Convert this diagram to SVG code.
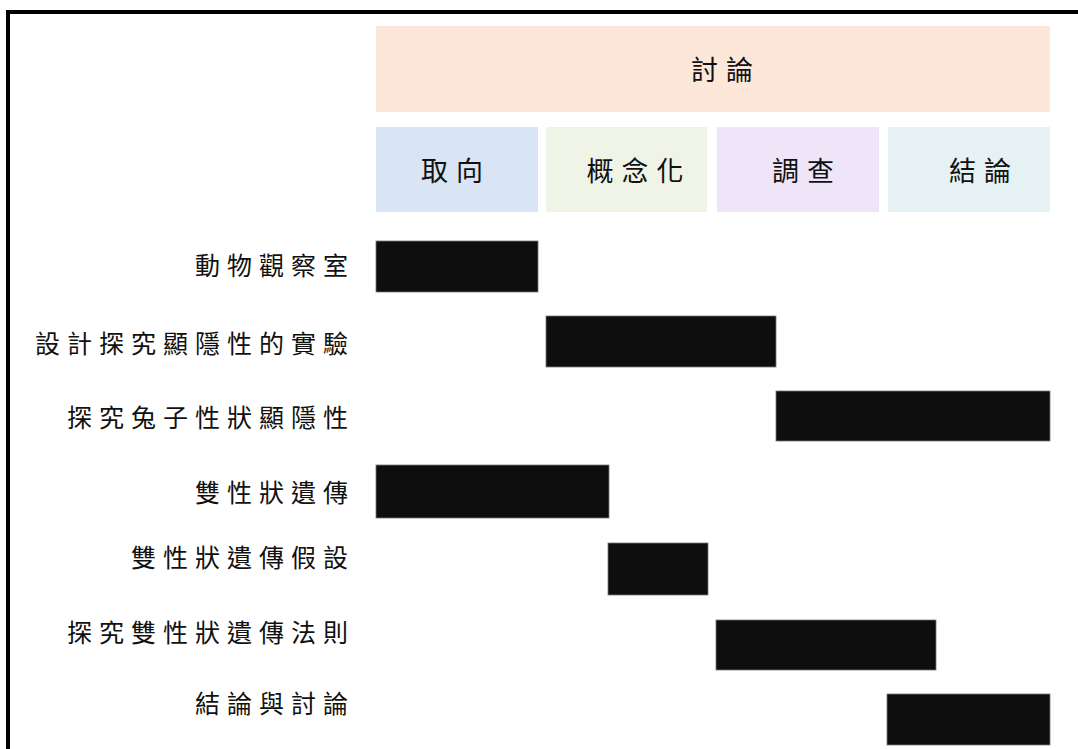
<svg xmlns="http://www.w3.org/2000/svg" width="1078" height="749" viewBox="0 0 1078 749">
<style>
  .t { font-family: "Noto Sans CJK TC", "Noto Sans CJK SC", sans-serif; fill: #111; }
  .lbl { font-size: 25px; letter-spacing: 7px; text-anchor: end; }
  .hd { font-size: 27px; letter-spacing: 8px; text-anchor: middle; }
  .bar { fill: #0e0e0e; stroke: #777; stroke-width: 0.8; }
</style>
<rect x="0" y="0" width="1078" height="749" fill="#fff"/>
<rect x="8" y="12" width="1090" height="760" fill="none" stroke="#000" stroke-width="4"/>

<g id="header">
  <rect x="376" y="26" width="674" height="86" fill="#FCE7D9"/>
  <text class="t hd" x="726" y="80">討論</text>
</g>
<g id="phase-1">
  <rect x="376" y="127" width="162" height="85" fill="#D9E4F4"/>
  <text class="t hd" x="456" y="181">取向</text>
</g>
<g id="phase-2">
  <rect x="546" y="127" width="161" height="85" fill="#EFF4E7"/>
  <text class="t hd" x="639" y="181">概念化</text>
</g>
<g id="phase-3">
  <rect x="717" y="127" width="162" height="85" fill="#EEE5F8"/>
  <text class="t hd" x="807" y="181">調查</text>
</g>
<g id="phase-4">
  <rect x="888" y="127" width="162" height="85" fill="#E6F1F3"/>
  <text class="t hd" x="984" y="181">結論</text>
</g>

<g id="task-1">
  <text class="t lbl" x="355" y="275">動物觀察室</text>
  <rect class="bar" x="376" y="241" width="162" height="51"/>
</g>
<g id="task-2">
  <text class="t lbl" x="355" y="353">設計探究顯隱性的實驗</text>
  <rect class="bar" x="546" y="316" width="230" height="51"/>
</g>
<g id="task-3">
  <text class="t lbl" x="355" y="427">探究兔子性狀顯隱性</text>
  <rect class="bar" x="776" y="391" width="274" height="50"/>
</g>
<g id="task-4">
  <text class="t lbl" x="355" y="502">雙性狀遺傳</text>
  <rect class="bar" x="376" y="465" width="233" height="53"/>
</g>
<g id="task-5">
  <text class="t lbl" x="355" y="567">雙性狀遺傳假設</text>
  <rect class="bar" x="608" y="543" width="100" height="52"/>
</g>
<g id="task-6">
  <text class="t lbl" x="355" y="642">探究雙性狀遺傳法則</text>
  <rect class="bar" x="716" y="620" width="220" height="50"/>
</g>
<g id="task-7">
  <text class="t lbl" x="355" y="713">結論與討論</text>
  <rect class="bar" x="887" y="694" width="163" height="51"/>
</g>
<g id="connectors"></g>
</svg>
